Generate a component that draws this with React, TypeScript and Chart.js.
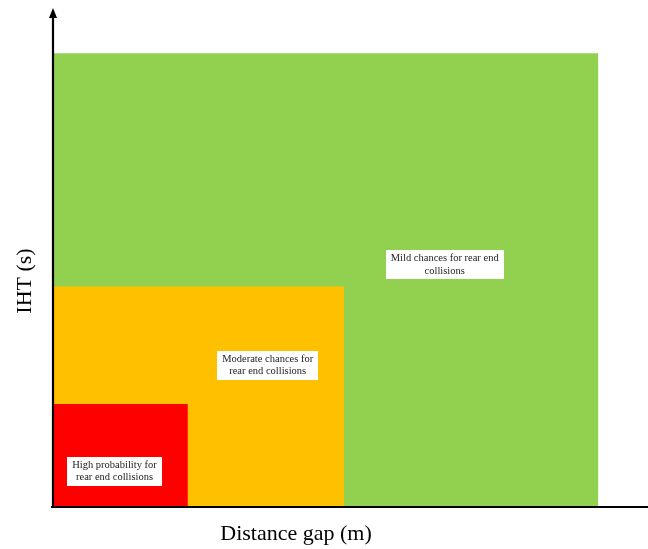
import React, { useEffect, useRef } from "react";
import { Chart, registerables } from "chart.js";

Chart.register(...registerables);

// Zone names (drawn top to bottom: red on top)
const zoneNames = ["High probability", "Moderate chances", "Mild chances"];
// Zone extents on the distance-gap axis (arbitrary units, no tick labels in source)
const zoneGapMax = [2.72, 5.87, 11];
// Zone extents on the IHT axis
const zoneIhtMax = [2.27, 4.86, 10];
const zoneColors = ["#FF0000", "#FFC000", "#92D050"];
// Zone label text lines and anchor points (data units)
const zoneLabels = [
  ["High probability for", "rear end collisions"],
  ["Moderate chances for", "rear end collisions"],
  ["Mild chances for rear end", "collisions"],
];
const labelGap = [1.24, 4.33, 7.9];
const labelIht = [0.79, 3.12, 5.34];

const xMax = 12;
const yMax = 11;
const xTitle = "Distance gap (m)";
const yTitle = "IHT (s)";

const SERIF = "'Liberation Serif', 'Times New Roman', serif";

const overlayPlugin = {
  id: "overlay",
  afterDatasetsDraw(chart: any) {
    const ctx = chart.ctx as CanvasRenderingContext2D;
    const xs = chart.scales.x;
    const ys = chart.scales.y;
    const area = chart.chartArea;
    ctx.save();

    // zone labels
    ctx.font = `10.5px ${SERIF}`;
    ctx.textAlign = "center";
    ctx.textBaseline = "middle";
    zoneLabels.forEach((lines, i) => {
      const cx = xs.getPixelForValue(labelGap[i]);
      const cy = ys.getPixelForValue(labelIht[i]);
      const lh = 12.5;
      const w = Math.max(...lines.map((l) => ctx.measureText(l).width)) + 10;
      const h = lines.length * lh + 4;
      ctx.fillStyle = "#FFFFFF";
      ctx.fillRect(Math.round(cx - w / 2), Math.round(cy - h / 2), Math.round(w), Math.round(h));
      ctx.fillStyle = "#222222";
      lines.forEach((l, k) => {
        ctx.fillText(l, cx, cy + (k - (lines.length - 1) / 2) * lh);
      });
    });

    // axes lines
    const x0 = xs.getPixelForValue(0);
    const y0 = ys.getPixelForValue(0);
    ctx.strokeStyle = "#000000";
    ctx.lineWidth = 2.2;
    ctx.beginPath();
    ctx.moveTo(x0 - 2, y0);
    ctx.lineTo(area.right, y0);
    ctx.stroke();
    ctx.beginPath();
    ctx.moveTo(x0, y0 + 1);
    ctx.lineTo(x0, area.top + 8);
    ctx.stroke();
    // y arrow head
    ctx.fillStyle = "#000000";
    ctx.beginPath();
    ctx.moveTo(x0, area.top);
    ctx.lineTo(x0 - 4, area.top + 10);
    ctx.lineTo(x0 + 4, area.top + 10);
    ctx.closePath();
    ctx.fill();

    // axis titles
    ctx.fillStyle = "#000000";
    ctx.font = `22px ${SERIF}`;
    ctx.textAlign = "center";
    ctx.textBaseline = "alphabetic";
    ctx.fillText(xTitle, 296, 540);
    ctx.save();
    ctx.translate(31, 281);
    ctx.rotate(-Math.PI / 2);
    ctx.fillText(yTitle, 0, 0);
    ctx.restore();

    ctx.restore();
  },
};

export default function App() {
  const ref = useRef<HTMLCanvasElement>(null);
  useEffect(() => {
    if (!ref.current) return;
    const datasets = zoneNames.map((name, i) => ({
      label: name,
      data: [
        { x: 0, y: zoneIhtMax[i] },
        { x: zoneGapMax[i], y: zoneIhtMax[i] },
      ],
      fill: "origin",
      backgroundColor: zoneColors[i],
      borderColor: zoneColors[i],
      borderWidth: 0,
      pointRadius: 0,
      order: i,
    }));
    const chart = new Chart(ref.current, {
      type: "line",
      data: { datasets },
      options: {
        animation: false,
        responsive: false,
        maintainAspectRatio: false,
        layout: { padding: { left: 53, right: 0, top: 8, bottom: 42 } },
        plugins: { legend: { display: false }, tooltip: { enabled: false } },
        scales: {
          x: { type: "linear", min: 0, max: xMax, display: false },
          y: { type: "linear", min: 0, max: yMax, display: false },
        },
      },
      plugins: [overlayPlugin],
    });
    return () => chart.destroy();
  }, []);
  return (
    <div style={{ position: "absolute", left: 0, top: 0, width: 648, height: 549, background: "#fff" }}>
      <canvas ref={ref} width={648} height={549} style={{ width: 648, height: 549 }} />
    </div>
  );
}
